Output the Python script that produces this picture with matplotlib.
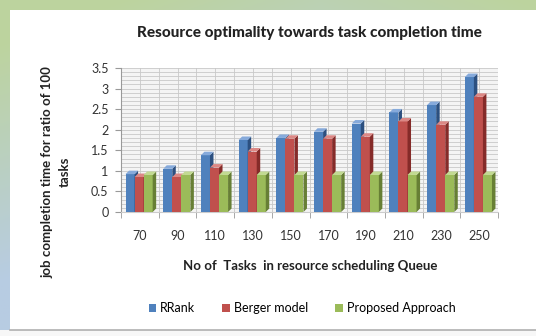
import numpy as np
import matplotlib.pyplot as plt
from matplotlib.patches import Polygon, Rectangle

tasks = ['70', '90', '110', '130', '150', '170', '190', '210', '230', '250']
rrank = [0.92, 1.05, 1.38, 1.75, 1.80, 1.95, 2.15, 2.42, 2.60, 3.28]
berger = [0.85, 0.85, 1.08, 1.47, 1.78, 1.78, 1.83, 2.20, 2.12, 2.80]
proposed = [0.90, 0.90, 0.90, 0.90, 0.90, 0.90, 0.90, 0.90, 0.90, 0.90]
series = ['RRank', 'Berger model', 'Proposed Approach']
colors = ['#4F81BD', '#C0504D', '#9BBB59']
sides = ['#2C5080', '#852B29', '#677F35']
tops = ['#86AADB', '#DC8885', '#C2DA92']

plt.rcParams['font.family'] = ['Lato', 'DejaVu Sans']
W, H = 536, 336
fig = plt.figure(figsize=(W / 100, H / 100), dpi=100)

# gradient frame behind the white panel
bg = fig.add_axes([0, 0, 1, 1], zorder=-5)
yy, xx = np.mgrid[0:1:200j, 0:1:300j]
green = np.array([0.74, 0.83, 0.62])
blue = np.array([0.72, 0.80, 0.89])
t = np.clip(yy * 1.4 + np.abs(xx - 0.6) * -0.8 + 0.3, 0, 1)[..., None]
img = green * (1 - t) + blue * t
bg.imshow(img, extent=[0, 1, 0, 1], aspect='auto', origin='upper')
bg.add_patch(Rectangle((10 / W, 6 / H), 1, (H - 16) / H, transform=bg.transAxes,
                       facecolor='white', edgecolor='none'))
bg.add_patch(Rectangle((0, 0), 1, 6 / H, transform=bg.transAxes,
                       facecolor='#f7f7f7', edgecolor='none'))
bg.plot([10 / W, 1], [6 / H, 6 / H], color='#b0b0b0', lw=1.2)
bg.set_xlim(0, 1)
bg.set_ylim(0, 1)
bg.axis('off')

left, right, bottom, top = 121, 498, 212, 68
ax = fig.add_axes([left / W, 1 - bottom / H, (right - left) / W, (bottom - top) / H])
n = len(tasks)
ax.set_xlim(-0.5, n - 0.5)
ax.set_ylim(0, 3.5)
ax.set_facecolor('#f4f4f4')

# wall grid
for v in np.arange(0, 3.51, 0.1):
    ax.axhline(v, color='#c8c8c8', lw=0.6, zorder=0)
for v in np.arange(-0.5, n, 0.5):
    ax.axvline(v, color='#c8c8c8', lw=0.6, zorder=0)

# 3D depth expressed in data units
px_x = n / (right - left)
px_y = 3.5 / (bottom - top)
dx, dy = 3.5 * px_x, 3.5 * px_y

bw = 0.24
x = np.arange(n)
for k, vals in enumerate([rrank, berger, proposed]):
    for i, v in enumerate(vals):
        x0 = x[i] - 0.38 + k * bw
        x1 = x0 + bw
        ax.add_patch(Rectangle((x0, 0), bw, v, facecolor=colors[k],
                               edgecolor='none', zorder=3 + k))
        ax.add_patch(Polygon([(x1, 0), (x1 + dx, dy), (x1 + dx, v + dy), (x1, v)],
                             facecolor=sides[k], edgecolor='none', zorder=3 + k))
        ax.add_patch(Polygon([(x0, v), (x0 + dx, v + dy), (x1 + dx, v + dy), (x1, v)],
                             facecolor=tops[k], edgecolor='none', zorder=3 + k))

ax.set_yticks(np.arange(0, 3.51, 0.5))
ax.set_yticklabels(['0', '0.5', '1', '1.5', '2', '2.5', '3', '3.5'])
ax.set_xticks(x)
ax.set_xticklabels(tasks)
ax.set_xticks(np.arange(-0.5, n, 1), minor=True)
ax.tick_params(axis='x', which='major', length=0, pad=13, labelsize=9, colors='#333333')
ax.tick_params(axis='x', which='minor', length=4, color='#999999')
ax.tick_params(axis='y', length=4, color='#999999', labelsize=9, colors='#333333', pad=5)
for s in ['top', 'right']:
    ax.spines[s].set_visible(False)
ax.spines['left'].set_color('#999999')
ax.spines['bottom'].set_color('#cccccc')

fig.text(309 / W, 1 - 33 / H, 'Resource optimality towards task completion time',
         ha='center', va='center', fontsize=11, fontweight='black', color='#222222')
fig.text(310 / W, 1 - 266 / H, 'No of  Tasks  in resource scheduling Queue',
         ha='center', va='center', fontsize=9.5, fontweight='bold', color='#222222')
fig.text(56 / W, 1 - 172 / H, 'job completion time for ratio of 100\ntasks',
         ha='center', va='center', rotation=90, fontsize=9.5, fontweight='bold',
         color='#222222', linespacing=1.6)

handles = [Rectangle((0, 0), 1, 1, facecolor=c) for c in colors]
fig.legend(handles, series, loc='center', bbox_to_anchor=(302 / W, 1 - 308 / H),
           ncol=3, frameon=False, fontsize=9, handlelength=0.6, handleheight=0.6,
           columnspacing=2.2, handletextpad=0.3)

fig.savefig('out.png', dpi=100)
